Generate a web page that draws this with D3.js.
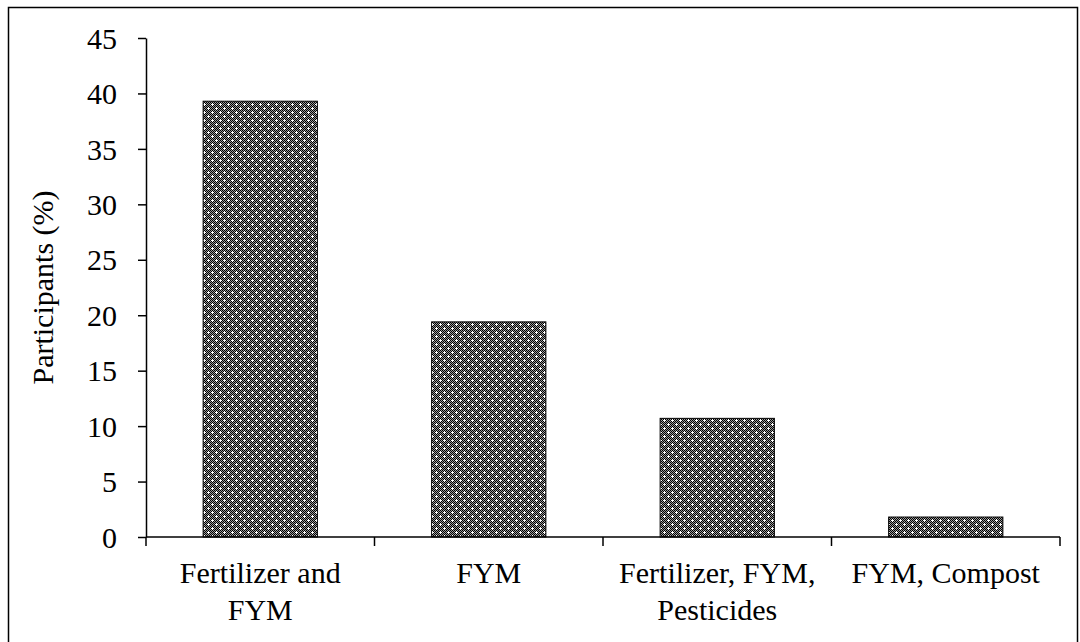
<!DOCTYPE html>
<html>
<head>
<meta charset="utf-8">
<script src="https://cdn.jsdelivr.net/npm/d3@7"></script>
<style>
  body { margin: 0; background: #fff; }
  svg text { font-family: "Times New Roman", "Liberation Serif", Tinos, "DejaVu Serif", serif !important; fill: #000; }
</style>
</head>
<body>
<div id="chart"></div>
<script>
// data
var categories = [["Fertilizer and", "FYM"], ["FYM"], ["Fertilizer, FYM,", "Pesticides"], ["FYM, Compost"]];
var values = [39.3, 19.4, 10.7, 1.8];
var yTicks = [0, 5, 10, 15, 20, 25, 30, 35, 40, 45];

var W = 1080, H = 642;
var serif = "'Times New Roman', 'Liberation Serif', Tinos, 'DejaVu Serif', serif";
var margin = {top: 38, right: 20, bottom: 105, left: 146};
var width = 1060 - margin.left,
    height = 537 - margin.top;

var svg = d3.select("#chart")
  .append("svg")
    .attr("width", W)
    .attr("height", H)
    .attr("font-family", serif);

// pattern fill like the original hatch: dark checker with white dots
var defs = svg.append("defs");
var pat = defs.append("pattern")
    .attr("id", "dots")
    .attr("patternUnits", "userSpaceOnUse")
    .attr("width", 8)
    .attr("height", 8);
pat.append("rect").attr("width", 8).attr("height", 8).attr("fill", "#9a9a9a");
for (var i = 0; i < 8; i++) {
  for (var j = 0; j < 8; j++) {
    if ((i + j) % 2 == 0) pat.append("rect").attr("x", i).attr("y", j).attr("width", 1).attr("height", 1).attr("fill", "#000");
  }
}
[[2, 2], [6, 6]].forEach(function(p) {
  pat.append("rect").attr("x", p[0] - 1).attr("y", p[1]).attr("width", 3).attr("height", 1).attr("fill", "#fff");
  pat.append("rect").attr("x", p[0]).attr("y", p[1] - 1).attr("width", 1).attr("height", 3).attr("fill", "#fff");
});

// outer frame
svg.append("rect")
  .attr("x", 8.5).attr("y", 7.5)
  .attr("width", 1069).attr("height", 650)
  .attr("fill", "none")
  .attr("stroke", "#000")
  .attr("stroke-width", 1.5);

var g = svg.append("g")
    .attr("transform", "translate(" + margin.left + "," + margin.top + ")");

var x = d3.scaleBand()
    .domain(d3.range(categories.length))
    .range([0, width])
    .paddingInner(0.5)
    .paddingOuter(0.25);

var xb = d3.scaleBand()
    .domain(d3.range(categories.length))
    .range([0, width]);

var y = d3.scaleLinear()
    .domain([0, 45])
    .range([height, 0]);

// bars
g.selectAll("rect.bar")
  .data(values)
  .enter()
  .append("rect")
    .attr("class", "bar")
    .attr("x", function(d, i) { return x(i); })
    .attr("y", function(d) { return y(d); })
    .attr("width", x.bandwidth())
    .attr("height", function(d) { return height - y(d); })
    .attr("fill", "url(#dots)")
    .attr("stroke", "#000")
    .attr("stroke-width", 1);

// y axis
var yAxis = g.append("g")
  .call(d3.axisLeft(y).tickValues(yTicks).tickSize(8).tickPadding(21).tickSizeOuter(0))
  .attr("font-family", serif);
yAxis.selectAll("text").style("font-size", "30px").attr("dy", "0.34em");
yAxis.selectAll("line, path").attr("stroke", "#000").attr("stroke-width", 1.5);

// x axis with ticks at band edges
var xAxis = g.append("g").attr("transform", "translate(0," + height + ")");
xAxis.append("line")
  .attr("x1", 0).attr("x2", width)
  .attr("stroke", "#000").attr("stroke-width", 1.5);
xAxis.selectAll("line.tk")
  .data(d3.range(categories.length + 1))
  .enter()
  .append("line")
    .attr("class", "tk")
    .attr("x1", function(i) { return i * xb.bandwidth(); })
    .attr("x2", function(i) { return i * xb.bandwidth(); })
    .attr("y1", 0).attr("y2", 9)
    .attr("stroke", "#000").attr("stroke-width", 1.5);

xAxis.selectAll("text.cat")
  .data(categories)
  .enter()
  .append("text")
    .attr("class", "cat")
    .attr("text-anchor", "middle")
    .style("font-size", "30px")
    .attr("transform", function(d, i) { return "translate(" + (xb(i) + xb.bandwidth() / 2) + ",46)"; })
    .selectAll("tspan")
    .data(function(d) { return d; })
    .enter()
    .append("tspan")
      .attr("x", 0)
      .attr("y", function(d, k) { return k * 37; })
      .text(function(d) { return d; });

// y label
svg.append("text")
  .attr("transform", "translate(53," + (margin.top + height / 2) + ") rotate(-90)")
  .attr("text-anchor", "middle")
  .style("font-size", "30px")
  .text("Participants (%)");
</script>
</body>
</html>
